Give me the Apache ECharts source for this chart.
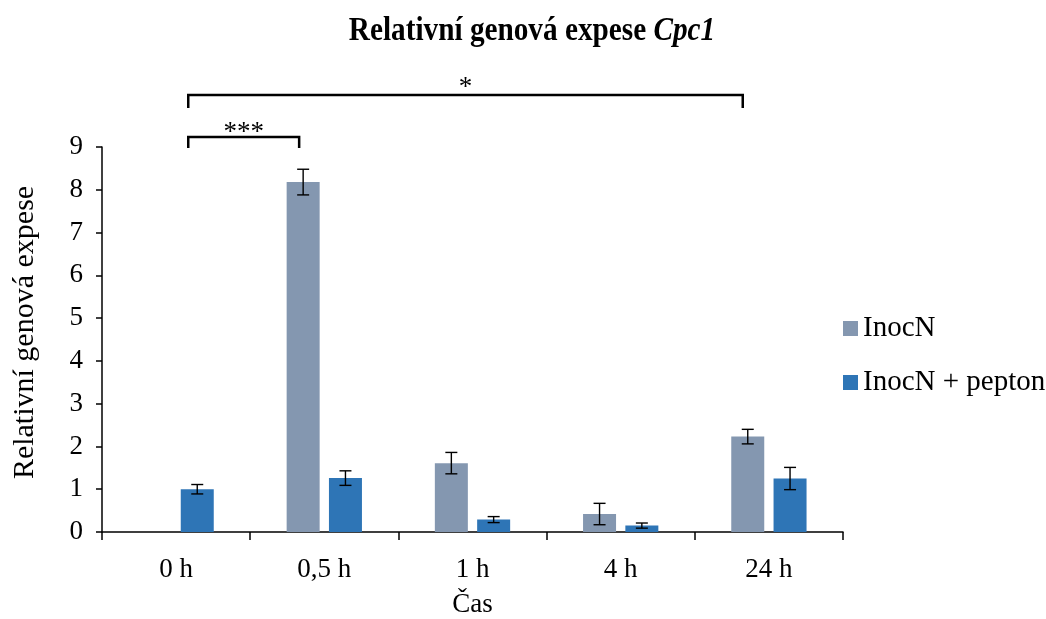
<!DOCTYPE html>
<html>
<head>
<meta charset="utf-8">
<script src="https://cdn.jsdelivr.net/npm/echarts@6/dist/echarts.min.js"></script>
<style>
html,body{margin:0;padding:0;background:#fff;}
#chart{width:1046px;height:619px;}
</style>
</head>
<body>
<div id="chart"></div>
<script>
// ---- data ----
const categories = ['0 h', '0,5 h', '1 h', '4 h', '24 h'];
const seriesNames = ['InocN', 'InocN + pepton'];
const inocN = [null, 8.18, 1.61, 0.42, 2.23];
const inocNErr = [null, 0.30, 0.25, 0.25, 0.17];
const pepton = [1.00, 1.26, 0.29, 0.15, 1.25];
const peptonErr = [0.11, 0.17, 0.07, 0.06, 0.26];
const yMin = 0, yMax = 9, yStep = 1;
// significance comparisons: [fromCategory, fromSeries, toCategory, toSeries]
const sigPairs = [[0, 1, 4, 0], [0, 1, 1, 0]];
const sigLabels = ['*', '***'];
const titleMain = 'Relativní genová expese ';
const titleGene = 'Cpc1';

// ---- style ----
const FONT = '"Liberation Serif", "Times New Roman", serif';
const colors = ['#8497B0', '#2E75B6'];
const BAR_W = 33;
const GAP_PX = 9.3;
const FS = 27;
const sigStyle = [
  {lineY: 95, leg: 13, textY: 101, dxFrom: -9, dxTo: -5},
  {lineY: 137, leg: 11, textY: 146, dxFrom: -9, dxTo: -4}
];

function errData(vals, errs) {
  return vals.map((v, i) => v == null ? null : [i, v - errs[i], v + errs[i]]);
}

function errSeries(idx, vals, errs) {
  const off = (idx === 0 ? -1 : 1) * (BAR_W + GAP_PX) / 2;
  return {
    type: 'custom',
    name: seriesNames[idx] + ' err',
    data: errData(vals, errs).filter(d => d),
    encode: {x: 0, y: [1, 2]},
    z: 10,
    silent: true,
    renderItem: function (params, api) {
      const lo = api.coord([api.value(0), api.value(1)]);
      const hi = api.coord([api.value(0), api.value(2)]);
      const x = lo[0] + off;
      const cap = 6;
      const st = {stroke: '#000', lineWidth: 1.4};
      return {
        type: 'group',
        children: [
          {type: 'line', shape: {x1: x, y1: lo[1], x2: x, y2: hi[1]}, style: st},
          {type: 'line', shape: {x1: x - cap, y1: lo[1], x2: x + cap, y2: lo[1]}, style: st},
          {type: 'line', shape: {x1: x - cap, y1: hi[1], x2: x + cap, y2: hi[1]}, style: st}
        ]
      };
    }
  };
}

const sigSeries = {
  type: 'custom',
  name: 'sig',
  data: sigPairs.map(p => [p[0], p[1], p[2], p[3]]),
  clip: false,
  silent: true,
  z: 10,
  encode: {x: [0, 2]},
  renderItem: function (params, api) {
    const s = sigStyle[params.dataIndex];
    const off = (BAR_W + GAP_PX) / 2;
    const c1 = api.coord([api.value(0), 0])[0] + (api.value(1) === 0 ? -off : off) + s.dxFrom;
    const c2 = api.coord([api.value(2), 0])[0] + (api.value(3) === 0 ? -off : off) + s.dxTo;
    const st = {stroke: '#000', lineWidth: 2.5, fill: null};
    return {
      type: 'group',
      children: [
        {type: 'polyline', shape: {points: [[c1, s.lineY + s.leg], [c1, s.lineY], [c2, s.lineY], [c2, s.lineY + s.leg]]}, style: st},
        {type: 'text', x: (c1 + c2) / 2, y: s.textY, style: {text: sigLabels[params.dataIndex], font: FS + 'px ' + FONT, fill: '#000', align: 'center', verticalAlign: 'bottom'}}
      ]
    };
  }
};

const chart = echarts.init(document.getElementById('chart'));
chart.setOption({
  animation: false,
  color: colors,
  graphic: [{
    type: 'text',
    x: 532,
    y: 31,
    scaleX: 0.86,
    style: {
      text: '{b|' + titleMain + '}{i|' + titleGene + '}',
      align: 'center',
      verticalAlign: 'middle',
      rich: {
        b: {fontFamily: FONT, fontWeight: 'bold', fontSize: 34, fill: '#000'},
        i: {fontFamily: FONT, fontWeight: 'bold', fontStyle: 'italic', fontSize: 34, fill: '#000'}
      }
    }
  }],
  legend: {
    data: seriesNames,
    orient: 'vertical',
    left: 838,
    top: 309,
    itemWidth: 15,
    itemHeight: 15,
    itemGap: 25,
    icon: 'rect',
    textStyle: {fontFamily: FONT, fontSize: 29, color: '#000'}
  },
  grid: {left: 102, right: 203, top: 147, bottom: 87, containLabel: false, outerBoundsMode: 'none'},
  xAxis: {
    type: 'category',
    data: categories,
    name: 'Čas',
    nameLocation: 'middle',
    nameGap: 59,
    nameTextStyle: {fontFamily: FONT, fontSize: FS, color: '#000'},
    axisLine: {lineStyle: {color: '#000', width: 1.5}},
    axisTick: {show: true, length: 8, lineStyle: {color: '#000', width: 1.5}},
    axisLabel: {fontFamily: FONT, fontSize: FS, color: '#000', margin: 24}
  },
  yAxis: {
    type: 'value',
    min: yMin,
    max: yMax,
    interval: yStep,
    name: 'Relativní genová expese',
    nameLocation: 'middle',
    nameGap: 62,
    nameTextStyle: {fontFamily: FONT, fontSize: 30, color: '#000', padding: [0, 0, 0, 14]},
    splitLine: {show: false},
    axisLine: {show: true, lineStyle: {color: '#000', width: 1.5}},
    axisTick: {show: true, length: 6, lineStyle: {color: '#000', width: 1.5}},
    axisLabel: {fontFamily: FONT, fontSize: FS, color: '#000', margin: 19}
  },
  series: [
    {type: 'bar', name: seriesNames[0], data: inocN, barWidth: BAR_W, barGap: (GAP_PX / BAR_W * 100) + '%', itemStyle: {color: colors[0]}},
    {type: 'bar', name: seriesNames[1], data: pepton, barWidth: BAR_W, barGap: (GAP_PX / BAR_W * 100) + '%', itemStyle: {color: colors[1]}},
    errSeries(0, inocN, inocNErr),
    errSeries(1, pepton, peptonErr),
    sigSeries
  ]
});
</script>
</body>
</html>
